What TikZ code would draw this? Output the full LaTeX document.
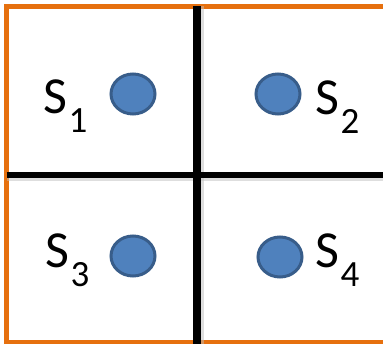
\documentclass[tikz,border=0pt]{standalone}
\usepackage{fontspec}
\setmainfont{Carlito}
\usetikzlibrary{shapes.geometric}
\definecolor{borderorange}{RGB}{230,112,14}
\definecolor{dotfill}{RGB}{79,129,189}
\definecolor{dotline}{RGB}{56,93,138}
\newcommand{\slab}[1]{S\kern1.5pt\raisebox{-19pt}{\fontsize{37}{37}\selectfont #1}}
\tikzset{
  frame/.style={draw=borderorange, line width=5pt},
  divider/.style={draw=black, line width=7pt},
  shadowline/.style={draw=black!25, line width=4pt, opacity=0.5},
  dot/.style={ellipse, draw=dotline, fill=dotfill, line width=3pt, minimum width=44pt, minimum height=40pt, inner sep=0pt},
  lab/.style={anchor=base west, inner sep=0pt, font=\fontsize{52}{52}\selectfont}
}
\begin{document}
\begin{tikzpicture}[x=1pt,y=-1pt]
\useasboundingbox (0,0) rectangle (383,344);
\fill[white] (0,0) rectangle (383,344);
\clip (0,0) rectangle (383,344);
% frame
\draw[frame] (420,6.5) -- (6.5,6.5) -- (6.5,342.5) -- (420,342.5);
% dividers
\coordinate (vt) at (196.5,6.5);
\coordinate (vb) at (196.5,350);
\coordinate (hl) at (6.5,175);
\coordinate (hr) at (400,175);
\draw[shadowline] ([xshift=5pt]vt) -- ([xshift=5pt]vb);
\draw[shadowline] ([yshift=-4pt]hl) -- ([yshift=-4pt]hr);
\draw[divider, line width=6pt] (hl) -- (hr);
\draw[divider, line width=8pt] (vt) -- (vb);
% dots
\node[dot] (d1) at (133,94) {};
\node[dot] (d2) at (278,94) {};
\node[dot] (d3) at (133,256) {};
\node[dot] (d4) at (280,257) {};
% labels
\node[lab] (s1) at (43,114) {\slab{1}};
\node[lab] (s2) at (315,115) {\slab{2}};
\node[lab] (s3) at (45,268) {\slab{3}};
\node[lab] (s4) at (315,268) {\slab{4}};
\end{tikzpicture}
\end{document}
